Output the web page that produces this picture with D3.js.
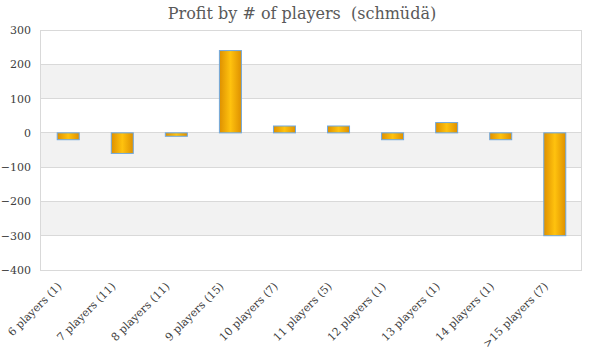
<!DOCTYPE html>
<html><head><meta charset="utf-8">
<script src="https://cdn.jsdelivr.net/npm/d3@7/dist/d3.min.js"></script>
<style>body{margin:0;background:#fff}</style>
</head><body>
<svg id="c" width="600" height="360"></svg>
<script>
const categories = ["6 players (1)","7 players (11)","8 players (11)","9 players (15)","10 players (7)","11 players (5)","12 players (1)","13 players (1)","14 players (1)",">15 players (7)"];
const values = [-20,-60,-10,240,20,20,-20,30,-20,-300];
const yTicks = [300,200,100,0,-100,-200,-300,-400];

const svg = d3.select("#c");
const font = "Georgia, 'DejaVu Serif', serif";
const m = {l:40, r:19, t:30, b:90};
const W = 600, H = 360;
const x = d3.scaleBand().domain(categories).range([m.l+1, W-m.r+1]).paddingInner(0.593).paddingOuter(0.3);
const y = d3.scaleLinear().domain([-400,300]).range([H-m.b, m.t]);

const defs = svg.append("defs");
const g = defs.append("linearGradient").attr("id","bg").attr("x1","0").attr("x2","1").attr("y1","0").attr("y2","0");
g.append("stop").attr("offset","0%").attr("stop-color","#de9000");
g.append("stop").attr("offset","50%").attr("stop-color","#ffc20e");
g.append("stop").attr("offset","100%").attr("stop-color","#de9000");

// bands
for (let i=0;i<yTicks.length-1;i++){
  const a = yTicks[i], b = yTicks[i+1];
  svg.append("rect").attr("x",m.l).attr("width",W-m.r-m.l)
    .attr("y",y(a)).attr("height",y(b)-y(a))
    .attr("fill", i%2===1 ? "#f2f2f2" : "#ffffff");
}
// grid
svg.append("g").selectAll("line").data(yTicks).join("line")
  .attr("x1",m.l).attr("x2",W-m.r).attr("y1",d=>y(d)).attr("y2",d=>y(d))
  .attr("stroke","#d9d9d9").attr("stroke-width",1).attr("shape-rendering","crispEdges");
// border
svg.append("rect").attr("x",m.l).attr("y",m.t).attr("width",W-m.r-m.l).attr("height",y(-400)-m.t)
  .attr("fill","none").attr("stroke","#d9d9d9").attr("shape-rendering","crispEdges");

// y axis
const ya = svg.append("g").attr("transform",`translate(${m.l-9},0)`)
  .call(d3.axisLeft(y).tickValues(yTicks).tickSize(0).tickPadding(0));
ya.select(".domain").remove();
ya.selectAll("text").attr("font-family",font).attr("font-size",11).attr("fill","#404040");

// bars
svg.append("g").selectAll("rect").data(values).join("rect")
  .attr("x",(d,i)=>x(categories[i])).attr("width",x.bandwidth())
  .attr("y",d=>y(Math.max(0,d))).attr("height",d=>Math.abs(y(d)-y(0)))
  .attr("fill","url(#bg)").attr("stroke","#6fa8e0").attr("stroke-width",1);

// x axis
const xa = svg.append("g").attr("transform",`translate(0,${H-m.b})`)
  .call(d3.axisBottom(x).tickSize(0).tickPadding(0));
xa.select(".domain").remove();
xa.selectAll("text").attr("font-family",font).attr("font-size",11).attr("fill","#404040")
  .attr("text-anchor","end").attr("dy","0").attr("y",0)
  .attr("transform","translate(-6,17) rotate(-45)");

// title
svg.append("text").attr("x",302).attr("y",19).attr("text-anchor","middle")
  .attr("font-family",font).attr("font-size",16).attr("fill","#595959")
  .style("white-space","pre")
  .text("Profit by # of players  (schmüdä)");
</script>
</body></html>
